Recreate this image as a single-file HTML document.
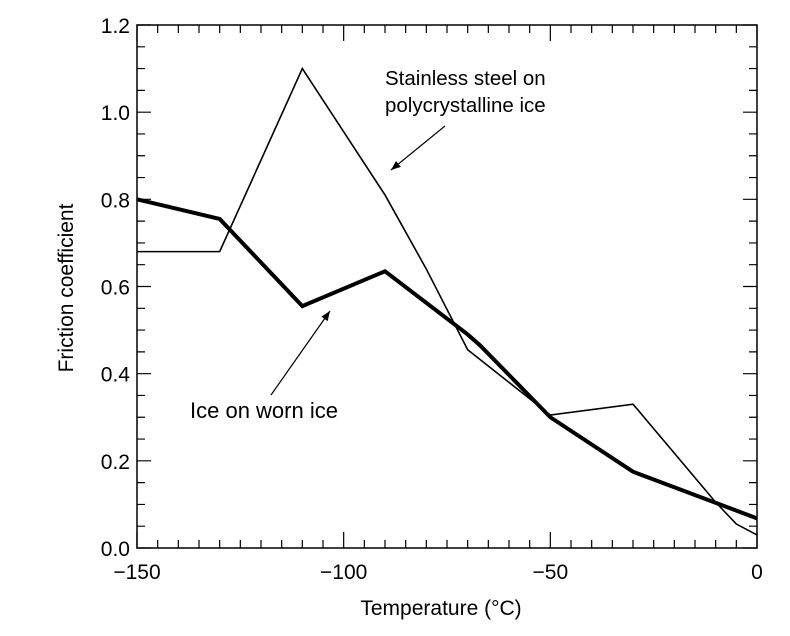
<!DOCTYPE html>
<html><head><meta charset="utf-8"><style>
body{margin:0;background:#fff;width:790px;height:631px;overflow:hidden}
text{font-family:"Liberation Sans",Arial,sans-serif;fill:#000}
</style></head><body>
<svg id="chart" width="790" height="631" viewBox="0 0 790 631" xmlns="http://www.w3.org/2000/svg">
<defs><marker id="ah" viewBox="0 0 10 10" refX="10" refY="5" markerWidth="10" markerHeight="8" orient="auto"><path d="M0,1 L10,5 L0,9 Z" fill="#000"/></marker></defs>
<g id="axes"></g>
<g id="series"></g>
<text x="385" y="85" font-size="20.5">Stainless steel on</text>
<text x="385" y="112" font-size="20.5">polycrystalline ice</text>
<line x1="445" y1="126" x2="391" y2="170" stroke="#000" stroke-width="1.2" marker-end="url(#ah)"/>
<text x="190" y="418" font-size="22">Ice on worn ice</text>
<line x1="271" y1="395" x2="330" y2="311" stroke="#000" stroke-width="1.2" marker-end="url(#ah)"/>
<text x="441" y="615" font-size="21" text-anchor="middle">Temperature (°C)</text>
<text transform="translate(73,288) rotate(-90)" font-size="21" text-anchor="middle">Friction coefficient</text>
</svg>
<script>
const xTicks=[-150,-100,-50,0];
const yTicks=[0.0,0.2,0.4,0.6,0.8,1.0,1.2];
const yTickLabels=["0.0","0.2","0.4","0.6","0.8","1.0","1.2"];
const steelX=[-150,-130,-110,-90,-80,-70,-50,-30,-10,-5,0];
const steelY=[0.68,0.68,1.10,0.81,0.64,0.455,0.305,0.33,0.105,0.055,0.03];
const iceX=[-150,-130,-110,-90,-70,-67,-50,-30,0];
const iceY=[0.80,0.755,0.555,0.635,0.49,0.465,0.30,0.175,0.068];
const L=137,R=757,T=25,B=548;
function sx(v){return L+(v+150)/150*(R-L);}
function sy(v){return B-v/1.2*(B-T);}
const NS="http://www.w3.org/2000/svg";
const ax=document.getElementById('axes');
function mk(tag,attrs,parent){const e=document.createElementNS(NS,tag);for(const k in attrs)e.setAttribute(k,attrs[k]);parent.appendChild(e);return e;}
const frame=mk('rect',{x:L,y:T,width:R-L,height:B-T,fill:'none',stroke:'#000','stroke-width':1.5},ax);


let d='';
for(let v=-150;v<=0;v+=5){const x=sx(v);const len=(v%50===0)?16:8;d+=`M${x},${B}v${-len}M${x},${T}v${len}`;}
for(let i=0;i<=24;i++){const v=i*0.05;const y=sy(v);const len=(i%4===0)?14:8;d+=`M${L},${y}h${len}M${R},${y}h${-len}`;}
const tk=mk('path',{d:d,stroke:'#000','stroke-width':1.2,fill:'none'},ax);


xTicks.forEach(v=>{const t=mk('text',{x:sx(v),y:B+31,'font-size':21,'text-anchor':'middle'},ax);t.textContent=v<0?'\u2212'+(-v):String(v);

});
yTicks.forEach((v,i)=>{const t=mk('text',{x:L-7,y:sy(v)+8,'font-size':21,'text-anchor':'end'},ax);t.textContent=yTickLabels[i];

});
const sg=document.getElementById('series');
const p1=mk('polyline',{points:steelX.map((x,i)=>sx(x)+','+sy(steelY[i])).join(' '),fill:'none',stroke:'#000','stroke-width':1.6,'stroke-linejoin':'miter'},sg);


const p2=mk('polyline',{points:iceX.map((x,i)=>sx(x)+','+sy(iceY[i])).join(' '),fill:'none',stroke:'#000','stroke-width':4,'stroke-linejoin':'miter'},sg);


</script>
</body></html>
